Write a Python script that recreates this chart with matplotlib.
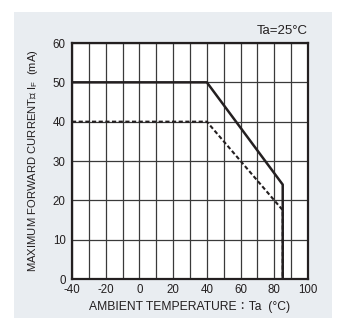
import numpy as np
from matplotlib import pyplot as plt
from matplotlib.patches import Rectangle

plt.rcParams['font.family'] = ['Liberation Sans', 'Noto Sans CJK JP', 'DejaVu Sans']
plt.rcParams['axes.unicode_minus'] = False

# derating curves
temp_solid = [-40, 40, 85, 85]
current_solid = [50, 50, 24, 0]
temp_dash = [-40, 40, 85, 85]
current_dash = [40, 40, 17.5, 0]

x_ticks = [-40, -20, 0, 20, 40, 60, 80, 100]
y_ticks = [0, 10, 20, 30, 40, 50, 60]

fig = plt.figure(figsize=(3.39, 3.2), dpi=100)
fig.patch.set_facecolor('white')
# light panel behind the chart
fig.patches.append(Rectangle((14 / 339, 1 - 318 / 320), 318 / 339, 306 / 320,
                             transform=fig.transFigure, facecolor='#e9edf1',
                             edgecolor='none', zorder=-5))

ax = fig.add_axes([72 / 339, 1 - 279 / 320, 236 / 339, 236 / 320])
ax.set_facecolor('white')
ax.set_xlim(-40, 100)
ax.set_ylim(0, 60)
ax.set_xticks(x_ticks)
ax.set_yticks(y_ticks)
ax.set_xticks(np.arange(-40, 101, 10), minor=True)
ax.tick_params(which='both', length=0, labelsize=8.3, colors='#231f20')
ax.tick_params(axis='x', pad=3.5)
ax.tick_params(axis='y', pad=4.5)
ax.grid(True, which='both', color='#3a3a3a', linewidth=0.9)
for s in ax.spines.values():
    s.set_linewidth(1.6)
    s.set_color('#231f20')

ax.plot(temp_dash, current_dash, color='#231f20', linewidth=1.5, linestyle=(0, (2, 1.2)))
ax.plot(temp_solid, current_solid, color='#231f20', linewidth=1.8)

ax.set_xlabel('AMBIENT TEMPERATURE：Ta  (°C)', fontsize=8.7, color='#231f20', labelpad=4)
ax.set_ylabel('MAXIMUM FORWARD CURRENT： I$_\\mathregular{F}$  (mA)', fontsize=8.1,
              color='#231f20', labelpad=9)
ax.text(1.0, 1.025, 'Ta=25°C', transform=ax.transAxes, ha='right', va='bottom',
        fontsize=9.5, color='#231f20')

fig.savefig('out.png', dpi=100)
